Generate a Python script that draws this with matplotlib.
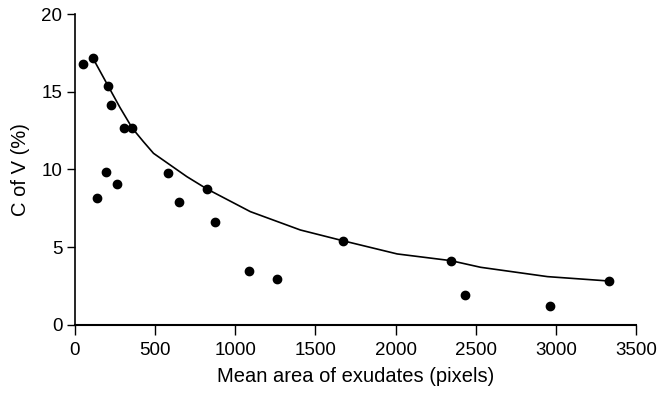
import matplotlib
matplotlib.use("Agg")
import matplotlib.pyplot as plt

# measured points: mean exudate area (pixels) vs coefficient of variation (%)
area = [52, 115, 135, 194, 208, 225, 264, 306, 358, 579, 646, 823, 871,
        1083, 1260, 1671, 2344, 2433, 2965, 3329]
cov = [16.8, 17.15, 8.19, 9.82, 15.37, 14.15, 9.05, 12.65, 12.65, 9.75,
       7.93, 8.75, 6.65, 3.49, 2.94, 5.42, 4.12, 1.93, 1.22, 2.83]

# fitted curve
curve_x = [115, 208, 280, 358, 427, 490, 594, 698, 823, 1094, 1406, 1671,
           2010, 2344, 2531, 2948, 3329]
curve_y = [17.1, 15.35, 14.0, 12.65, 11.79, 11.04, 10.29, 9.54, 8.75, 7.29,
           6.11, 5.42, 4.57, 4.14, 3.71, 3.11, 2.83]

plt.rcParams["font.family"] = ["Liberation Sans", "DejaVu Sans"]

fig = plt.figure(figsize=(6.6, 3.99), dpi=100)
ax = fig.add_axes([0.1136, 0.1855, 0.85, 0.7794])

ax.plot(curve_x, curve_y, color="black", lw=1.2, zorder=2)
ax.plot(area, cov, "o", color="black", ms=6, zorder=3)

ax.set_xlim(0, 3500)
ax.set_ylim(0, 20)
ax.set_xticks(range(0, 3501, 500))
ax.set_yticks([0, 5, 10, 15, 20])
ax.spines["top"].set_visible(False)
ax.spines["right"].set_visible(False)
ax.spines["left"].set_linewidth(1.2)
ax.spines["bottom"].set_linewidth(1.5)
ax.tick_params(axis="x", length=7, width=1, labelsize=13.5, pad=5)
ax.tick_params(axis="y", length=6, width=1, labelsize=13.5, pad=3)

ax.set_xlabel("Mean area of exudates (pixels)", fontsize=14.5, labelpad=6)
ax.set_ylabel("C of V (%)", fontsize=14.5, labelpad=8)

fig.savefig("out.png", dpi=100)
